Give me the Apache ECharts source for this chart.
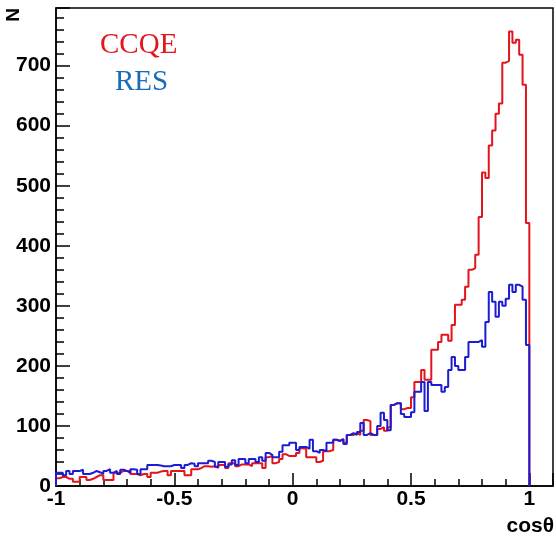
<!DOCTYPE html>
<html><head><meta charset="utf-8">
<script src="https://cdn.jsdelivr.net/npm/echarts@6/dist/echarts.min.js"></script>
<style>html,body{margin:0;padding:0;background:#fff}#c{width:556px;height:537px}</style>
</head><body><div id="c"></div>
<script>
// histogram binning: 140 bins over cos(theta) in [-1, 1]
const binLow = -1;
const binHigh = 1;

// CCQE counts per bin
const ccqe = [
  13,15,15,12,12,7,7,15,15,10,12,15,18,18,10,10,10,22,22,25,25,25,20,
  20,18,20,20,15,22,22,24,25,25,18,25,25,25,25,18,18,28,28,30,33,33,32,33,
  30,35,35,30,38,38,33,36,36,36,33,38,38,38,30,48,50,38,40,45,53,50,50,50,
  55,63,62,48,48,48,40,42,58,58,60,77,75,78,72,85,85,88,85,92,110,108,85,85,
  95,98,92,98,
  135,138,138,128,130,130,148,173,173,193,177,177,227,227,240,252,252,242,268,302,302,310,332,360,363,385,
  448,522,513,567,592,620,637,705,708,757,738,743,718,668,438
];

// RES counts per bin
const res = [
  22,22,18,25,20,25,25,27,20,20,22,25,23,20,25,28,22,25,20,27,25,22,28,
  27,20,28,28,35,35,35,34,33,33,33,35,35,35,30,35,38,37,33,38,38,38,42,40,
  32,40,40,32,36,43,35,45,45,38,45,45,40,48,42,55,52,48,48,57,68,68,72,72,
  60,65,65,62,77,58,55,60,58,72,72,77,75,78,70,85,88,85,90,105,85,88,85,85,
  100,122,110,93,
  135,138,138,120,115,115,123,157,157,173,125,173,168,168,168,157,165,193,215,200,193,193,215,240,240,240,
  243,232,273,323,307,282,307,300,312,335,323,335,332,310,235
];

const legendLabels = ['CCQE', 'RES'];
const xTitle = 'cosθ';
const yTitle = 'N';

function toSteps(vals) {
  const w = (binHigh - binLow) / vals.length;
  const pts = [[binLow, 0]];
  vals.forEach((v, i) => pts.push([binLow + i * w, v]));
  pts.push([binHigh, vals[vals.length - 1]]);
  pts.push([binHigh, 0]);
  return pts;
}

const chart = echarts.init(document.getElementById('c'), null, {renderer: 'canvas'});
const axisFont = {fontFamily: '"Liberation Sans", Arial, sans-serif', fontWeight: 'bold', fontSize: 21, color: '#000'};
const lineBlack = {color: '#000', width: 1.5};

chart.setOption({
  animation: false,
  backgroundColor: '#fff',
  grid: {left: 56, right: 3, top: 8, bottom: 51, show: true, borderColor: '#000', borderWidth: 1.5},
  xAxis: {
    type: 'value', min: -1, max: 1.1, interval: 0.5,
    axisLine: {show: true, onZero: false, lineStyle: lineBlack},
    axisTick: {show: true, inside: true, length: 13, lineStyle: lineBlack},
    minorTick: {show: true, splitNumber: 5, length: 7, lineStyle: lineBlack},
    splitLine: {show: false}, minorSplitLine: {show: false},
    axisLabel: Object.assign({margin: 3, showMaxLabel: false}, axisFont)
  },
  yAxis: {
    type: 'value', min: 0, max: 796, interval: 100,
    axisLine: {show: true, onZero: false, lineStyle: lineBlack},
    axisTick: {show: true, inside: true, length: 14, lineStyle: lineBlack},
    minorTick: {show: true, splitNumber: 5, length: 8, lineStyle: lineBlack},
    splitLine: {show: false}, minorSplitLine: {show: false},
    axisLabel: Object.assign({margin: 5, showMaxLabel: false}, axisFont)
  },
  series: [
    {type: 'line', name: legendLabels[0], step: 'end', symbol: 'none', data: toSteps(ccqe),
     lineStyle: {color: '#e3141c', width: 2}, z: 2},
    {type: 'line', name: legendLabels[1], step: 'end', symbol: 'none', data: toSteps(res),
     lineStyle: {color: '#1c1cd2', width: 2}, z: 3}
  ],
  graphic: [
    {type: 'text', x: 100, y: 45, style: {text: legendLabels[0], font: '29px "Liberation Serif", "Times New Roman", serif', fill: '#e3161e', verticalAlign: 'middle', align: 'left'}},
    {type: 'text', x: 115, y: 82, style: {text: legendLabels[1], font: '29px "Liberation Serif", "Times New Roman", serif', fill: '#1a6cb8', verticalAlign: 'middle', align: 'left'}},
    {type: 'text', x: 14, y: 15, rotation: Math.PI / 2, style: {text: yTitle, font: 'bold 19px "Liberation Sans", Arial, sans-serif', fill: '#000', verticalAlign: 'middle', align: 'center'}},
    {type: 'text', x: 554, y: 526, style: {text: xTitle, font: 'bold 21px "Liberation Sans", Arial, sans-serif', fill: '#000', verticalAlign: 'middle', align: 'right'}}
  ]
});
</script>
</body></html>
